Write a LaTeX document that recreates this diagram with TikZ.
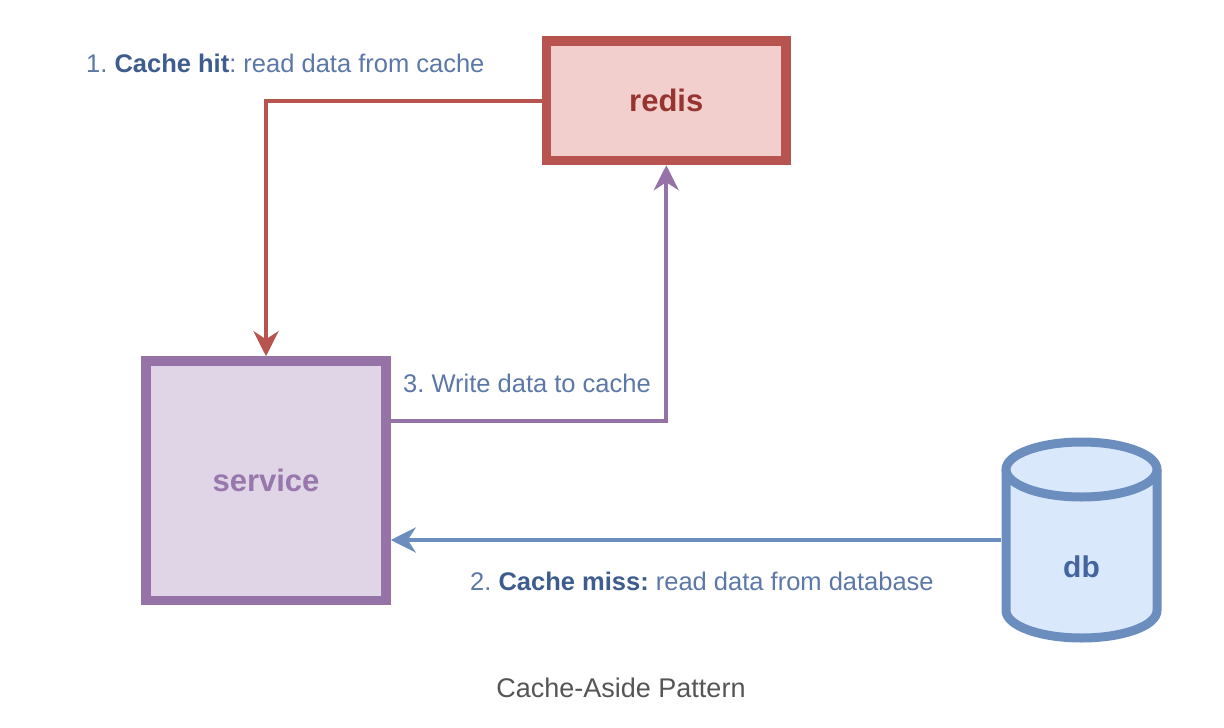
\documentclass[tikz,border=0pt]{standalone}
\usepackage{fontspec}
\setmainfont{Liberation Sans}
\usetikzlibrary{arrows.meta,calc}
\frenchspacing
\definecolor{redstroke}{RGB}{184,84,80}
\definecolor{redfill}{RGB}{242,206,204}
\definecolor{redtext}{RGB}{150,52,50}
\definecolor{purstroke}{RGB}{150,115,166}
\definecolor{purfill}{RGB}{224,213,231}
\definecolor{purtext}{RGB}{152,120,172}
\definecolor{bluestroke}{RGB}{108,142,191}
\definecolor{bluefill}{RGB}{218,232,252}
\definecolor{bluetext}{RGB}{68,100,158}
\definecolor{labeltext}{RGB}{92,120,168}
\definecolor{labelbold}{RGB}{62,92,142}
\definecolor{captiontext}{RGB}{85,85,85}
\tikzset{
  box/.style={rectangle, line width=9.5pt, font=\fontsize{31}{36}\selectfont\bfseries},
  conn/.style={line width=4.5pt, -{Stealth[length=25pt,width=25pt,inset=8pt]}},
  lbl/.style={anchor=base west, inner sep=0pt, text=labeltext, font=\fontsize{25.5}{30}\selectfont},
}
\newcommand{\hb}[1]{\textcolor{labelbold}{\bfseries #1}}
\begin{document}
\begin{tikzpicture}[x=1pt,y=-1pt]
\useasboundingbox[fill=white] (0,0) rectangle (1224,728);
% nodes
\node[box, draw=redstroke, fill=redfill, text=redtext, minimum width=239.5pt, minimum height=119.5pt] (redis) at (666.25,100.75) {redis};
\node[box, draw=purstroke, fill=purfill, text=purtext, minimum width=240pt, minimum height=239.5pt] (service) at (266,480.75) {service};
% db cylinder
\node[rectangle, inner sep=0pt, outer sep=0pt, minimum width=161pt, minimum height=206pt] (db) at (1081.5,540) {};
\fill[bluefill] (1006,469.5) -- (1006,610.5) arc[start angle=180,end angle=360,x radius=75.5pt,y radius=27.5pt] -- (1157,469.5) arc[start angle=0,end angle=180,x radius=75.5pt,y radius=27.5pt] -- cycle;
\draw[bluestroke, line width=9pt] (1006,469.5) -- (1006,610.5) arc[start angle=180,end angle=360,x radius=75.5pt,y radius=27.5pt] -- (1157,469.5);
\draw[bluestroke, line width=9pt] (1081.5,469.5) ellipse[x radius=75.5pt,y radius=27.5pt];
\node[text=bluetext, font=\fontsize{30}{34}\selectfont\bfseries] (dblabel) at (1081.5,567) {db};
% connectors
\draw[conn, draw=redstroke] (redis.west) -| (service.north);
\coordinate (w3) at (666.25,421);
\draw[conn, line width=4pt, draw=purstroke] (service.east |- w3) -| (redis.south);
\draw[conn, draw=bluestroke] (db.west) -- (service.east |- db.west);
% labels
\node[lbl] (l1) at (86,72) {1. \hb{Cache hit}: read data from cache};
\node[lbl] (l3) at (403,392) {3. Write data to cache};
\node[lbl] (l2) at (470,590) {2. \hb{Cache miss:} read data from database};
\node[anchor=base, inner sep=0pt, text=captiontext, font=\fontsize{27}{31}\selectfont] (cap) at (621,697) {Cache-Aside Pattern};
\end{tikzpicture}
\end{document}
